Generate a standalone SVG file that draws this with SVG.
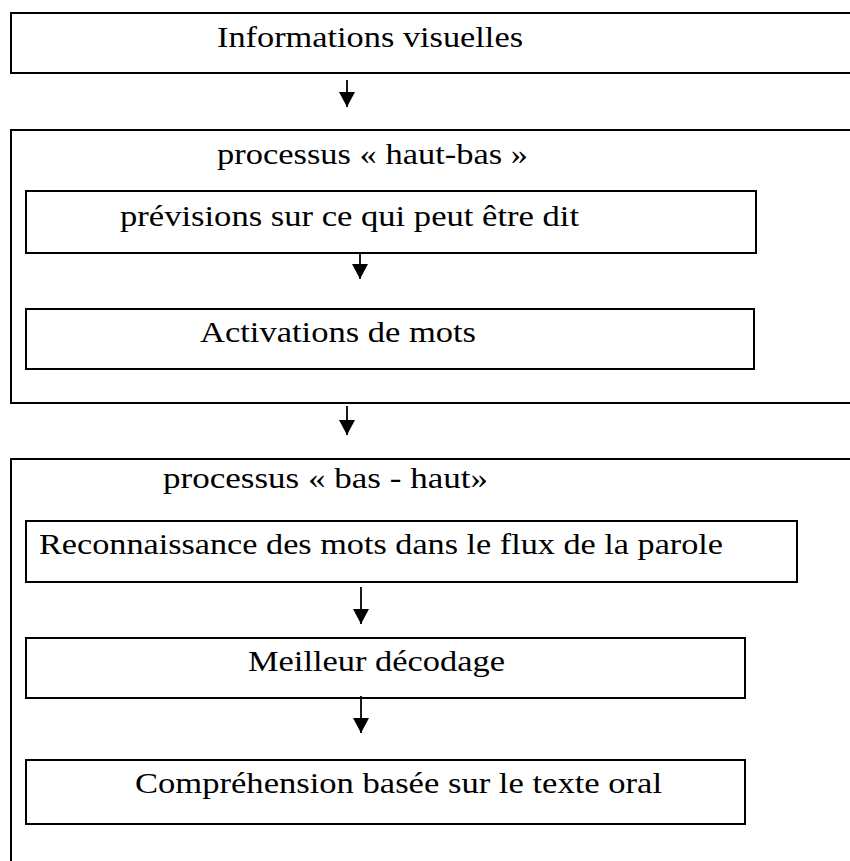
<svg xmlns="http://www.w3.org/2000/svg" width="850" height="861" viewBox="0 0 850 861">
  <style>
    .box { fill: none; stroke: #000; stroke-width: 2; }
    .lbl { font-family: "Liberation Serif", "Times New Roman", serif; font-size: 30px; fill: #000; }
    .conn { stroke: #000; stroke-width: 1.8; fill: none; }
  </style>
  <defs>
    <marker id="head" markerUnits="userSpaceOnUse" markerWidth="15" markerHeight="16" viewBox="0 -8 15 16" refX="15" refY="0" orient="auto">
      <path d="M0,-8 L15,0 L0,8 z" fill="#000"/>
    </marker>
  </defs>
  <rect width="850" height="861" fill="#fff"/>

  <g id="informations-visuelles">
    <rect class="box" x="11" y="13" width="900" height="60"/>
    <text class="lbl" x="217" y="47" textLength="306" lengthAdjust="spacingAndGlyphs">Informations visuelles</text>
  </g>

  <g id="haut-bas">
    <rect class="box" x="11" y="130" width="900" height="273"/>
    <text class="lbl" x="217" y="164" textLength="311" lengthAdjust="spacingAndGlyphs">processus « haut-bas »</text>
  </g>

  <g id="previsions">
    <rect class="box" x="26" y="191" width="730" height="62"/>
    <text class="lbl" x="120" y="226" textLength="459" lengthAdjust="spacingAndGlyphs">prévisions sur ce qui peut être dit</text>
  </g>

  <g id="activations">
    <rect class="box" x="26" y="309" width="728" height="60"/>
    <text class="lbl" x="200" y="342" textLength="276" lengthAdjust="spacingAndGlyphs">Activations de mots</text>
  </g>

  <g id="bas-haut">
    <rect class="box" x="11" y="459" width="900" height="500"/>
    <text class="lbl" x="163" y="488" textLength="325" lengthAdjust="spacingAndGlyphs">processus « bas - haut»</text>
  </g>

  <g id="reconnaissance">
    <rect class="box" x="26" y="521" width="771" height="61"/>
    <text class="lbl" x="39" y="554" textLength="684" lengthAdjust="spacingAndGlyphs">Reconnaissance des mots dans le flux de la parole</text>
  </g>

  <g id="decodage">
    <rect class="box" x="26" y="638" width="719" height="60"/>
    <text class="lbl" x="248" y="671" textLength="257" lengthAdjust="spacingAndGlyphs">Meilleur décodage</text>
  </g>

  <g id="comprehension">
    <rect class="box" x="26" y="760" width="719" height="64"/>
    <text class="lbl" x="135" y="793" textLength="527" lengthAdjust="spacingAndGlyphs">Compréhension basée sur le texte oral</text>
  </g>

  <g id="connectors">
    <line class="conn" x1="347" y1="80" x2="347" y2="107" marker-end="url(#head)"/>
    <line class="conn" x1="360" y1="253" x2="360" y2="279" marker-end="url(#head)"/>
    <line class="conn" x1="347" y1="406" x2="347" y2="435" marker-end="url(#head)"/>
    <line class="conn" x1="361" y1="587" x2="361" y2="624" marker-end="url(#head)"/>
    <line class="conn" x1="361" y1="696" x2="361" y2="733" marker-end="url(#head)"/>
  </g>
</svg>
